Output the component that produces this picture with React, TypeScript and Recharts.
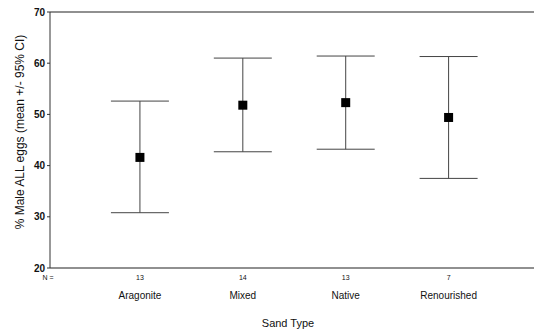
import { ComposedChart, Scatter, ErrorBar, XAxis, YAxis, ReferenceLine } from "recharts";

const CATEGORIES = ["Aragonite", "Mixed", "Native", "Renourished"];
const N_COUNTS = [13, 14, 13, 7];
const MEANS = [41.6, 51.8, 52.3, 49.4];
const CI_LOW = [30.8, 42.7, 43.2, 37.5];
const CI_HIGH = [52.6, 61.0, 61.4, 61.3];
const Y_TICKS = [20, 30, 40, 50, 60, 70];

const DATA = CATEGORIES.map((name, i) => ({
  pos: i + 1,
  name,
  n: N_COUNTS[i],
  mean: MEANS[i],
  ci: [MEANS[i] - CI_LOW[i], CI_HIGH[i] - MEANS[i]],
}));

const FONT = "'Liberation Sans', Arial, sans-serif";
const INK = "#111";

function CategoryTick(props: any) {
  const { x, y, payload, index } = props;
  const i = payload.value - 1;
  return (
    <g fontFamily={FONT} fill={INK}>
      {index === 0 && (
        <text x={x - 92} y={y + 12} fontSize={7} textAnchor="middle">
          N =
        </text>
      )}
      <text x={x} y={y + 12} fontSize={7} textAnchor="middle">
        {N_COUNTS[i]}
      </text>
      <text x={x} y={y + 31} fontSize={10} textAnchor="middle">
        {CATEGORIES[i]}
      </text>
    </g>
  );
}

function YTitle(props: any) {
  const vb = props.viewBox || { x: 0, y: 12, width: 50, height: 256 };
  const cx = vb.x + 24;
  const cy = vb.y + vb.height / 2 - 8;
  return (
    <text
      x={cx}
      y={cy}
      transform={`rotate(-90 ${cx} ${cy})`}
      textAnchor="middle"
      fontSize={12}
      fontFamily={FONT}
      fill={INK}
    >
      % Male ALL eggs (mean +/- 95% CI)
    </text>
  );
}

export default function App() {
  return (
    <div style={{ position: "absolute", left: 0, top: 0, background: "#fff" }}>
      <ComposedChart width={534} height={331} data={DATA} margin={{ top: 12, right: 0, bottom: 0, left: 0 }}>
        <XAxis
          type="number"
          dataKey="pos"
          domain={[0.126, 4.83]}
          ticks={[1, 2, 3, 4]}
          allowDataOverflow
          height={63}
          tickLine={false}
          tickSize={0}
          tickMargin={0}
          axisLine={{ stroke: "#222", strokeWidth: 1.2 }}
          tick={<CategoryTick />}
          interval={0}
          label={{ value: "Sand Type", position: "insideBottom", offset: 4, dx: -4, fontSize: 11, fontFamily: FONT, fill: INK }}
        />
        <YAxis
          type="number"
          domain={[20, 70]}
          ticks={Y_TICKS}
          width={50}
          tickSize={3}
          tickMargin={2}
          axisLine={{ stroke: "#333", strokeWidth: 1 }}
          tickLine={{ stroke: "#333" }}
          tick={{ fontSize: 10, fontFamily: FONT, fill: INK, fontWeight: 600 }}
          label={<YTitle />}
        />
        <ReferenceLine y={70} stroke="#222" strokeWidth={1.2} />
        <Scatter
          dataKey="mean"
          isAnimationActive={false}
          shape={(p: any) => <rect x={p.cx - 4.5} y={p.cy - 4.5} width={9} height={9} fill="#000" />}
        >
          <ErrorBar dataKey="ci" direction="y" width={29} stroke="#444" strokeWidth={1} />
        </Scatter>
      </ComposedChart>
    </div>
  );
}
